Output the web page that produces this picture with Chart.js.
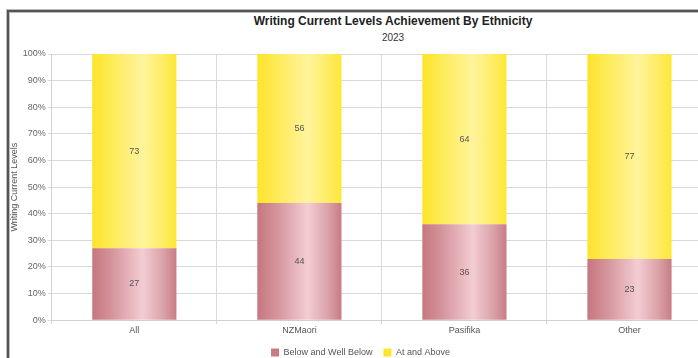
<!DOCTYPE html>
<html>
<head>
<meta charset="utf-8">
<script src="https://cdn.jsdelivr.net/npm/chart.js@4.4.1/dist/chart.umd.min.js"></script>
<style>
  html, body { margin: 0; padding: 0; width: 698px; height: 358px; overflow: hidden; background: #fff; }
  #frame { position: absolute; left: 7px; top: 10px; width: 900px; height: 500px;
           border-left: 2px solid #555; border-top: 2px solid #555;
           box-shadow: -1px -1px 0 #bbb, inset 1px 1px 0 #bbb; }
  #title { position: absolute; left: 193px; width: 400px; top: 14px; text-align: center;
           font: bold 12px "Liberation Sans", Arial, sans-serif; color: #222; }
  #subtitle { position: absolute; left: 193px; width: 400px; top: 32px; text-align: center;
           font: 10px "Liberation Sans", Arial, sans-serif; color: #333; }
  #wrap { position: absolute; left: 4px; top: 44px; width: 712px; height: 323px; }
</style>
</head>
<body>
<div id="frame"></div>
<div id="title">Writing Current Levels Achievement By Ethnicity</div>
<div id="subtitle">2023</div>
<div id="wrap"><canvas id="c"></canvas></div>
<script>
const categories = ["All", "NZMaori", "Pasifika", "Other"];
const belowValues = [27, 44, 36, 23];
const aboveValues = [73, 56, 64, 77];
const seriesNames = ["Below and Well Below", "At and Above"];
const yTickLabels = ["0%","10%","20%","30%","40%","50%","60%","70%","80%","90%","100%"];

const BAR_PCT = 0.51;
const FONT = '"Liberation Sans", Arial, sans-serif';

function barGradient(stops, solid) {
  return function(ctx) {
    const chart = ctx.chart;
    const xs = chart.scales && chart.scales.x;
    if (!chart.chartArea || !xs || ctx.dataIndex === undefined) return solid;
    const cx = xs.getPixelForValue(ctx.dataIndex);
    const half = (xs.width / categories.length) * BAR_PCT / 2;
    const g = chart.ctx.createLinearGradient(cx - half, 0, cx + half, 0);
    stops.forEach(s => g.addColorStop(s[0], s[1]));
    return g;
  };
}

const pinkStops = [[0, "#c6767f"], [0.25, "#d6969e"], [0.6, "#f3cdd2"], [0.85, "#d9a0a7"], [1, "#c87c85"]];
const yellowStops = [[0, "#fde42a"], [0.25, "#feeb5a"], [0.6, "#fff49c"], [0.85, "#feec62"], [1, "#fde736"]];

const valueLabels = {
  id: "valueLabels",
  afterDatasetsDraw(chart) {
    const ctx = chart.ctx;
    ctx.save();
    ctx.font = '9px ' + FONT;
    ctx.fillStyle = "#555";
    ctx.textAlign = "center";
    ctx.textBaseline = "middle";
    chart.data.datasets.forEach((ds, di) => {
      const meta = chart.getDatasetMeta(di);
      meta.data.forEach((bar, i) => {
        const p = bar.getProps(["x", "y", "base"], true);
        ctx.fillText(String(ds.data[i]), p.x, (p.y + p.base) / 2);
      });
    });
    ctx.restore();
  }
};

new Chart(document.getElementById("c"), {
  type: "bar",
  data: {
    labels: categories,
    datasets: [
      { label: seriesNames[0], data: belowValues, backgroundColor: barGradient(pinkStops, "#d48e96"),
        borderWidth: 0, categoryPercentage: 1, barPercentage: BAR_PCT },
      { label: seriesNames[1], data: aboveValues, backgroundColor: barGradient(yellowStops, "#fdea3a"),
        borderWidth: 0, categoryPercentage: 1, barPercentage: BAR_PCT }
    ]
  },
  options: {
    responsive: true,
    maintainAspectRatio: false,
    animation: false,
    layout: { padding: { top: 10, right: 4, left: 5, bottom: 0 } },
    plugins: {
      title: { display: false },
      tooltip: { enabled: false },
      legend: {
        position: "bottom",
        labels: {
          boxWidth: 8, boxHeight: 8, padding: 11,
          color: "#555",
          font: { family: FONT, size: 9 },
          generateLabels(chart) {
            const cols = ["#c97c85", "#fde62a"];
            return chart.data.datasets.map((d, i) => ({
              text: d.label, fillStyle: cols[i], strokeStyle: cols[i], lineWidth: 0, datasetIndex: i, fontColor: "#555"
            }));
          }
        }
      }
    },
    scales: {
      x: {
        stacked: true,
        grid: { offset: true, color: "#d9d9d9", lineWidth: 1, tickLength: 4, drawTicks: true },
        border: { color: "#d0d0d0" },
        ticks: { color: "#555", padding: 1, font: { family: FONT, size: 9 } }
      },
      y: {
        stacked: true,
        min: 0, max: 100,
        grid: { color: "#d9d9d9", lineWidth: 1, tickLength: 4 },
        border: { color: "#d0d0d0" },
        title: { display: true, text: "Writing Current Levels", color: "#555", padding: { top: 0, bottom: 1 },
                 font: { family: FONT, size: 9 } },
        ticks: {
          stepSize: 10, color: "#666", padding: 2,
          font: { family: FONT, size: 9 },
          callback: (v) => yTickLabels[Math.round(v / 10)]
        }
      }
    }
  },
  plugins: [valueLabels]
});
</script>
</body>
</html>
